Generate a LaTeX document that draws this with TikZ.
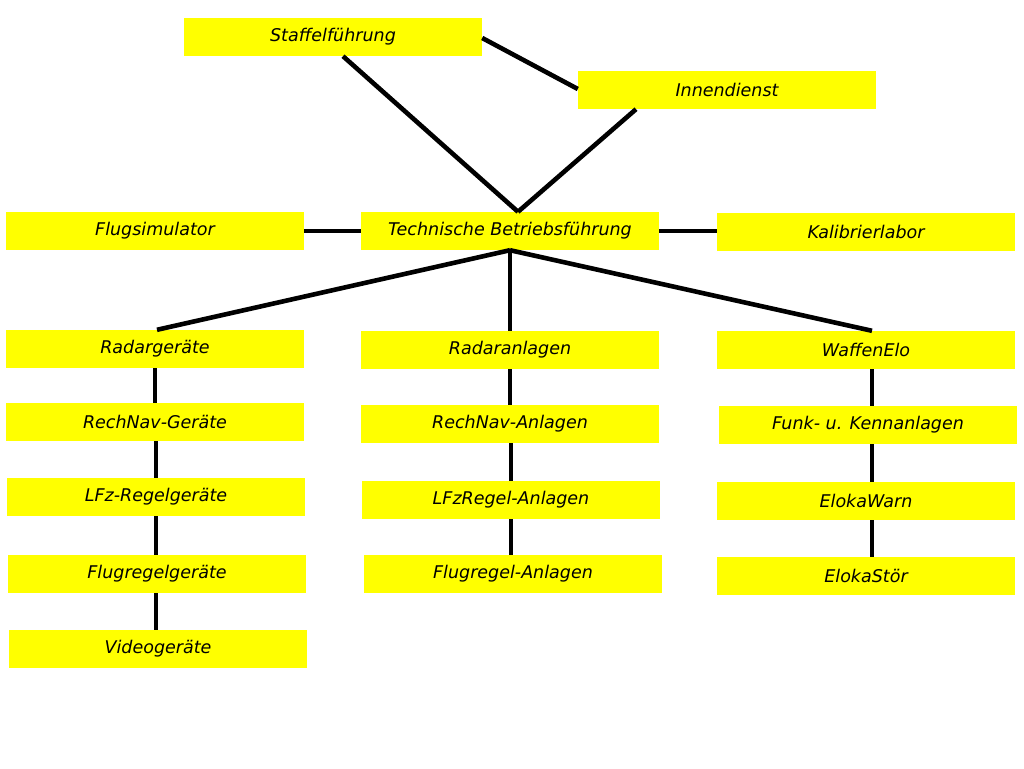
\documentclass[tikz,border=0pt]{standalone}
\usepackage{fontspec}
\setmainfont{DejaVu Sans}
\begin{document}
\begin{tikzpicture}[x=1pt,y=-1pt,
  box/.style={fill={rgb,255:red,255;green,255;blue,0}, draw=none, minimum width=298pt, minimum height=38pt, inner sep=0pt, font=\fontsize{17.5}{20}\selectfont\itshape},
  link/.style={line width=4.6pt, black}]
\useasboundingbox[fill=white] (0,0) rectangle (1024,768);
% top
\node[box] (staff) at (333,37) {Staffelführung};
\node[box] (innen) at (727,90) {Innendienst};
% middle row
\node[box] (flug) at (155,231) {Flugsimulator};
\node[box] (tbf) at (510,231) {Technische Betriebsführung};
\node[box] (kali) at (866,232) {Kalibrierlabor};
% left column
\node[box] (radg) at (155,349) {Radargeräte};
\node[box] (rnvg) at (155,422) {RechNav-Geräte};
\node[box] (lfzg) at (156,497) {LFz-Regelgeräte};
\node[box] (frg) at (157,574) {Flugregelgeräte};
\node[box] (vid) at (158,649) {Videogeräte};
% middle column
\node[box] (rada) at (510,350) {Radaranlagen};
\node[box] (rnva) at (510,424) {RechNav-Anlagen};
\node[box] (lfza) at (511,500) {LFzRegel-Anlagen};
\node[box] (fra) at (513,574) {Flugregel-Anlagen};
% right column
\node[box] (waf) at (866,350) {WaffenElo};
\node[box] (funk) at (868,425) {Funk- u. Kennanlagen};
\node[box] (ewarn) at (866,501) {ElokaWarn};
\node[box] (estoer) at (866,576) {ElokaStör};
% connectors
\draw[link] ([xshift=10pt]staff.south) -- ([xshift=8pt]tbf.north);
\draw[link] ([xshift=-91pt]innen.south) -- ([xshift=8pt]tbf.north);
\draw[link] ([yshift=-1pt]staff.east) -- ([yshift=1pt]innen.west);
\draw[link] (flug.east) -- (tbf.west);
\draw[link] (tbf.east) -- (tbf.east -| kali.west);
\draw[link] (tbf.south) -- ([xshift=2pt]radg.north);
\draw[link] (tbf.south) -- (rada.north);
\draw[link] (tbf.south) -- ([xshift=6pt]waf.north);
\draw[link] (radg.south) -- (rnvg.north);
\draw[link] ([xshift=1pt]rnvg.south) -- (lfzg.north);
\draw[link] (lfzg.south) -- ([xshift=-1pt]frg.north);
\draw[link] ([xshift=-1pt]frg.south) -- ([xshift=-2pt]vid.north);
\draw[link] (rada.south) -- (rnva.north);
\draw[link] ([xshift=1pt]rnva.south) -- (lfza.north);
\draw[link] (lfza.south) -- ([xshift=-2pt]fra.north);
\draw[link] ([xshift=6pt]waf.south) -- ([xshift=4pt]funk.north);
\draw[link] ([xshift=4pt]funk.south) -- ([xshift=6pt]ewarn.north);
\draw[link] ([xshift=6pt]ewarn.south) -- ([xshift=6pt]estoer.north);
\end{tikzpicture}
\end{document}
